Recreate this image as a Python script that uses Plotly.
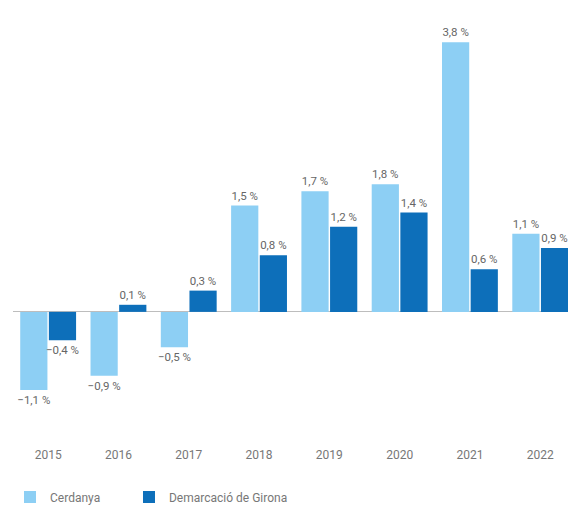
import plotly.graph_objects as go

years = ["2015", "2016", "2017", "2018", "2019", "2020", "2021", "2022"]
cerdanya = [-1.1, -0.9, -0.5, 1.5, 1.7, 1.8, 3.8, 1.1]
girona = [-0.4, 0.1, 0.3, 0.8, 1.2, 1.4, 0.6, 0.9]
names = ["Cerdanya", "Demarcació de Girona"]
colors = ["#8dcff4", "#0d6fba"]


def fmt(v):
    s = f"{abs(v):.1f}".replace(".", ",") + " %"
    return ("\u2212" + s) if v < 0 else s


fig = go.Figure()
for name, vals, col, lg in [(names[0], cerdanya, colors[0], "legend"),
                            (names[1], girona, colors[1], "legend2")]:
    fig.add_trace(go.Bar(
        x=years, y=vals, name=name, marker=dict(color=col, line=dict(width=0)),
        text=[fmt(v) for v in vals], textposition="outside", cliponaxis=False,
        constraintext="none", legend=lg,
        textfont=dict(family="Roboto", size=11.5, color="#666666"),
    ))

legend_font = dict(family="Roboto", size=12, color="#777777")
fig.update_layout(
    width=568, height=508,
    margin=dict(l=13, r=0, t=14, b=72),
    paper_bgcolor="white", plot_bgcolor="white",
    barmode="group", bargap=0.185, bargroupgap=0.05,
    font=dict(family="Roboto", color="#777777", size=12),
    showlegend=True,
    legend=dict(orientation="h", x=-0.0054, xanchor="left", xref="paper",
                y=0.0217, yanchor="middle", yref="container", font=legend_font),
    legend2=dict(orientation="h", x=0.209, xanchor="left", xref="paper",
                 y=0.0217, yanchor="middle", yref="container", font=legend_font),
)
fig.update_xaxes(type="category", range=[-0.5, 7.395], showgrid=False, showline=False,
                 ticks="", ticklabelstandoff=10, automargin=False,
                 tickfont=dict(family="Roboto", size=12, color="#777777"))
fig.update_yaxes(range=[-1.75, 4.2], showgrid=False, showticklabels=False, automargin=False,
                 zeroline=True, zerolinecolor="#bdbdbd", zerolinewidth=1)

fig.write_html("out.html", config={"displayModeBar": False},
               post_script="document.body.style.margin='0';document.body.style.overflow='hidden';")
